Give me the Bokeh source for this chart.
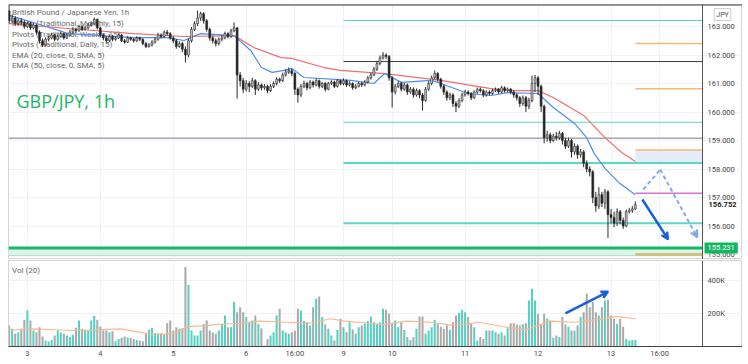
from bokeh.plotting import figure
from bokeh.layouts import column
from bokeh.models import (Range1d, FixedTicker, Grid, Label, Arrow, VeeHead,
                          PrintfTickFormatter, ColumnDataSource, Span)
from bokeh.embed import file_html
from bokeh.resources import INLINE

# ---------------- data (hourly bars) ----------------
OPEN = [
    163.55, 163.20, 163.30, 163.10, 163.20, 163.15, 163.00, 163.10, 162.95, 163.05,
    162.80, 162.50, 162.35, 162.55, 162.60, 162.70, 162.55, 162.65, 162.75, 162.60,
    162.70, 162.80, 162.90, 162.85, 163.00, 162.90, 162.95, 163.05, 163.10, 163.25,
    162.95, 162.70, 162.60, 162.50, 162.65, 162.55, 162.60, 162.70, 162.50, 162.45,
    162.60, 162.55, 162.50, 162.60, 162.55, 162.40, 162.30, 162.35, 162.45, 162.55,
    162.70, 162.65, 162.80, 162.75, 162.60, 162.50, 162.30, 162.40, 162.20, 162.00,
    162.50, 162.90, 163.10, 163.30, 163.45, 163.20, 162.90, 162.60, 162.50, 162.40,
    162.55, 162.60, 162.75, 162.65, 162.85, 162.95, 161.30, 161.10, 160.80, 161.00,
    160.90, 161.10, 160.80, 160.95, 160.85, 160.90, 160.75, 160.90, 161.00, 161.15,
    161.10, 161.30, 161.40, 161.45, 161.35, 160.80, 160.60, 160.90, 161.00, 160.85,
    161.05, 160.95, 161.10, 160.90, 161.00, 160.80, 161.00, 161.05, 160.90, 161.10,
    161.00, 161.10, 160.95, 161.00, 160.85, 160.90, 161.00, 160.95, 161.05, 161.20,
    161.30, 161.50, 161.70, 161.90, 162.00, 161.95, 161.20, 160.70, 160.90, 161.00,
    160.80, 160.95, 160.70, 160.80, 160.60, 160.75, 160.60, 160.40, 160.80, 161.00,
    161.20, 161.35, 161.15, 160.90, 160.70, 160.50, 160.60, 160.30, 160.20, 160.40,
    160.60, 160.70, 160.65, 160.50, 160.70, 160.80, 160.75, 160.60, 160.70, 160.65,
    160.75, 160.80, 160.70, 160.85, 160.75, 160.80, 160.70, 160.60, 160.50, 160.30,
    160.50, 160.20, 160.40, 161.00, 161.20, 160.90, 160.20, 159.10, 159.20, 159.00,
    159.15, 159.10, 159.25, 159.00, 158.80, 159.00, 158.60, 158.80, 158.50, 158.60,
    158.20, 158.00, 157.90, 157.00, 156.70, 157.10, 156.80, 157.20, 156.40, 156.30,
    156.10, 156.50, 156.20, 156.00, 156.50, 156.55, 156.60,
]
CLOSE = [
    163.20, 163.30, 163.10, 163.20, 163.15, 163.00, 163.10, 162.95, 163.05, 162.80,
    162.50, 162.35, 162.55, 162.60, 162.70, 162.55, 162.65, 162.75, 162.60, 162.70,
    162.80, 162.90, 162.85, 163.00, 162.90, 162.95, 163.05, 163.10, 163.25, 162.95,
    162.70, 162.60, 162.50, 162.65, 162.55, 162.60, 162.70, 162.50, 162.45, 162.60,
    162.55, 162.50, 162.60, 162.55, 162.40, 162.30, 162.35, 162.45, 162.55, 162.70,
    162.65, 162.80, 162.75, 162.60, 162.50, 162.30, 162.40, 162.20, 162.00, 162.50,
    162.90, 163.10, 163.30, 163.45, 163.20, 162.90, 162.60, 162.50, 162.40, 162.55,
    162.60, 162.75, 162.65, 162.85, 162.95, 161.30, 161.10, 160.80, 161.00, 160.90,
    161.10, 160.80, 160.95, 160.85, 160.90, 160.75, 160.90, 161.00, 161.15, 161.10,
    161.30, 161.40, 161.45, 161.35, 160.80, 160.60, 160.90, 161.00, 160.85, 161.05,
    160.95, 161.10, 160.90, 161.00, 160.80, 161.00, 161.05, 160.90, 161.10, 161.00,
    161.10, 160.95, 161.00, 160.85, 160.90, 161.00, 160.95, 161.05, 161.20, 161.30,
    161.50, 161.70, 161.90, 162.00, 161.95, 161.20, 160.70, 160.90, 161.00, 160.80,
    160.95, 160.70, 160.80, 160.60, 160.75, 160.60, 160.40, 160.80, 161.00, 161.20,
    161.35, 161.15, 160.90, 160.70, 160.50, 160.60, 160.30, 160.20, 160.40, 160.60,
    160.70, 160.65, 160.50, 160.70, 160.80, 160.75, 160.60, 160.70, 160.65, 160.75,
    160.80, 160.70, 160.85, 160.75, 160.80, 160.70, 160.60, 160.50, 160.30, 160.50,
    160.20, 160.40, 161.00, 161.20, 160.90, 160.20, 159.10, 159.20, 159.00, 159.15,
    159.10, 159.25, 159.00, 158.80, 159.00, 158.60, 158.80, 158.50, 158.60, 158.20,
    158.00, 157.90, 157.00, 156.70, 157.10, 156.80, 157.20, 156.40, 156.30, 156.10,
    156.50, 156.20, 156.00, 156.50, 156.55, 156.60, 156.752,
]
HIGH = [
    163.74, 163.42, 163.36, 163.28, 163.30, 163.22, 163.18, 163.16, 163.12, 163.08,
    162.86, 162.58, 162.62, 162.68, 162.78, 162.74, 162.72, 162.82, 162.78, 162.76,
    162.88, 162.98, 162.96, 163.06, 163.04, 163.02, 163.12, 163.18, 163.32, 163.28,
    163.00, 162.76, 162.66, 162.72, 162.70, 162.66, 162.76, 162.74, 162.56, 162.66,
    162.64, 162.60, 162.66, 162.64, 162.58, 162.46, 162.42, 162.52, 162.62, 162.78,
    162.76, 162.86, 162.88, 162.80, 162.66, 162.56, 162.48, 162.46, 162.30, 162.58,
    162.98, 163.18, 163.56, 163.52, 163.50, 163.26, 162.96, 162.68, 162.58, 162.62,
    162.70, 162.82, 162.80, 162.92, 163.14, 162.98, 161.40, 161.20, 161.12, 161.08,
    161.20, 161.15, 161.05, 161.00, 160.98, 160.96, 160.98, 161.08, 161.22, 161.20,
    161.38, 161.50, 161.56, 161.52, 161.40, 160.86, 160.98, 161.10, 161.06, 161.12,
    161.10, 161.18, 161.14, 161.06, 161.05, 161.06, 161.12, 161.10, 161.16, 161.14,
    161.18, 161.14, 161.08, 161.04, 160.98, 161.06, 161.06, 161.12, 161.26, 161.38,
    161.58, 161.78, 161.98, 162.10, 162.06, 162.00, 161.26, 160.98, 161.08, 161.06,
    161.02, 161.00, 160.88, 160.86, 160.82, 160.80, 160.66, 160.88, 161.08, 161.28,
    161.45, 161.40, 161.20, 160.96, 160.76, 160.68, 160.66, 160.38, 160.48, 160.68,
    160.78, 160.76, 160.70, 160.76, 160.86, 160.86, 160.80, 160.76, 160.76, 160.82,
    160.86, 160.84, 160.92, 160.90, 160.86, 160.84, 160.76, 160.66, 160.56, 160.58,
    160.56, 160.50, 161.28, 161.30, 161.26, 160.96, 160.26, 159.34, 159.28, 159.24,
    159.30, 159.34, 159.30, 159.10, 159.10, 159.06, 158.90, 158.86, 158.70, 158.66,
    158.30, 158.10, 157.96, 157.20, 157.36, 157.20, 157.30, 157.26, 156.60, 156.50,
    156.62, 156.56, 156.30, 156.58, 156.64, 156.70, 156.86,
]
LOW = [
    163.10, 163.12, 163.02, 163.04, 163.06, 162.92, 162.95, 162.88, 162.90, 162.72,
    162.40, 162.28, 162.30, 162.48, 162.55, 162.48, 162.50, 162.60, 162.54, 162.56,
    162.66, 162.75, 162.78, 162.82, 162.84, 162.86, 162.90, 163.00, 163.05, 162.90,
    162.62, 162.52, 162.44, 162.46, 162.48, 162.50, 162.56, 162.45, 162.40, 162.42,
    162.50, 162.44, 162.46, 162.48, 162.34, 162.24, 162.26, 162.30, 162.40, 162.50,
    162.58, 162.60, 162.68, 162.54, 162.42, 162.22, 162.25, 162.10, 161.74, 161.92,
    162.44, 162.84, 163.02, 163.20, 163.10, 162.82, 162.50, 162.40, 162.30, 162.34,
    162.48, 162.55, 162.58, 162.60, 162.80, 160.47, 160.90, 160.66, 160.72, 160.70,
    160.84, 160.60, 160.74, 160.76, 160.78, 160.66, 160.70, 160.84, 160.94, 161.02,
    161.05, 161.24, 161.34, 161.26, 160.60, 160.33, 160.52, 160.84, 160.76, 160.80,
    160.86, 160.90, 160.82, 160.84, 160.72, 160.76, 160.94, 160.84, 160.86, 160.94,
    160.94, 160.88, 160.90, 160.78, 160.80, 160.86, 160.88, 160.90, 161.00, 161.14,
    161.26, 161.44, 161.64, 161.84, 161.86, 161.10, 160.16, 160.62, 160.84, 160.72,
    160.74, 160.60, 160.64, 160.50, 160.54, 160.48, 160.05, 160.36, 160.74, 160.94,
    161.14, 161.06, 160.82, 160.60, 160.40, 160.42, 160.18, 160.00, 160.14, 160.34,
    160.54, 160.58, 160.42, 160.46, 160.64, 160.68, 160.52, 160.54, 160.58, 160.60,
    160.70, 160.64, 160.66, 160.68, 160.70, 160.62, 160.50, 160.40, 160.18, 160.22,
    160.00, 160.10, 160.34, 160.70, 160.60, 160.00, 158.90, 158.96, 158.90, 158.94,
    159.00, 159.02, 158.86, 158.70, 158.74, 158.40, 158.50, 158.36, 158.40, 158.06,
    157.88, 157.74, 156.80, 156.50, 156.60, 156.66, 156.60, 155.58, 156.10, 155.96,
    156.00, 156.06, 155.90, 155.96, 156.44, 156.46, 156.56,
]
VOLUME_K = [
    127, 107, 77, 87, 107, 162, 218, 158, 97, 87,
    117, 60, 36, 30, 40, 67, 97, 85, 77, 67,
    57, 71, 113, 158, 107, 101, 97, 158, 186, 162,
    121, 97, 97, 87, 93, 32, 46, 53, 61, 55,
    53, 46, 40, 35, 32, 77, 101, 113, 81, 77,
    80, 73, 141, 158, 97, 117, 107, 110, 481, 374,
    97, 67, 67, 97, 137, 158, 97, 85, 77, 97,
    137, 188, 117, 117, 269, 208, 238, 208, 178, 147,
    158, 188, 137, 110, 6, 46, 67, 87, 188, 228,
    97, 85, 77, 87, 97, 228, 218, 154, 147, 127,
    238, 289, 303, 178, 133, 107, 67, 36, 100, 168,
    117, 87, 147, 103, 77, 117, 127, 140, 154, 182,
    147, 137, 147, 228, 222, 198, 141, 158, 117, 147,
    100, 57, 40, 57, 107, 182, 182, 77, 97, 117,
    162, 137, 120, 107, 127, 101, 147, 188, 205, 222,
    208, 178, 141, 117, 36, 57, 46, 97, 97, 97,
    87, 77, 87, 67, 111, 141, 141, 133, 127, 135,
    141, 279, 350, 279, 198, 133, 198, 170, 158, 53,
    67, 57, 178, 133, 120, 97, 97, 127, 178, 208,
    319, 238, 269, 208, 188, 238, 279, 283, 188, 168,
    137, 168, 120, 46, 36, 40, 40,
]

# EMA lines (read at sample bars)
EMA20_X = [0, 8, 19.5, 30, 41, 52, 57.5, 63, 74, 79.5, 83, 86.5, 90.5, 93, 97, 112.5,
           120, 123.5, 129, 139, 142, 151, 158.5, 164, 174, 179, 186, 190, 192.5, 196, 200.5, 206]
EMA20_Y = [163.39, 163.14, 162.75, 162.68, 162.61, 162.61, 162.51, 162.75, 162.68, 162.16,
           161.56, 161.39, 161.46, 161.53, 161.21, 161.11, 161.00, 161.35, 161.04, 161.11,
           161.00, 160.65, 160.58, 160.68, 160.65, 160.16, 159.60, 159.10, 158.54, 158.02,
           157.53, 157.10]
EMA50_X = [0, 19.5, 41, 57.5, 74, 80.5, 89.5, 93, 103.5, 109, 123.5, 142, 158.5, 166, 174,
           179, 189, 191.5, 196, 201.5, 206]
EMA50_Y = [163.10, 162.93, 162.75, 162.65, 162.68, 162.26, 161.91, 161.88, 161.56, 161.46,
           161.35, 161.11, 160.82, 160.75, 160.75, 160.51, 159.88, 159.60, 159.10, 158.58, 158.26]

# Volume moving average (sampled)
VMA_X = [0, 6.8, 13.1, 21, 28.8, 36.7, 44.5, 50.8, 55.5, 58.6, 63.3, 68, 75.9, 82.2, 91.6,
         99.4, 105.7, 110.4, 118.3, 123, 130.8, 138.7, 146.5, 154.4, 162.2, 170, 177.9,
         185.8, 193.6, 199.9, 206.2]
VMA_K = [97, 107, 103, 97, 101, 107, 81, 73, 87, 121, 125, 133, 141, 154, 147, 141, 168,
         154, 141, 133, 154, 147, 127, 147, 121, 101, 154, 147, 162, 182, 168]

# x-axis ticks (bar index) and their labels
DAY_TICKS = [6, 30, 54, 78, 94, 110, 126, 150, 174, 198, 214]
DAY_LABELS = ["3", "4", "5", "6", "16:00", "9", "10", "11", "12", "13", "16:00"]

PRICE_TICKS = [155, 156, 157, 158, 159, 160, 161, 162, 163]
VOL_TICKS = [200000, 400000]
VOL_TICK_LABELS = ["200K", "400K"]

# pivot / level lines
FULL_LEVELS = [159.08]
WEEK_START = 110
WEEK_LEVELS = [163.21, 161.77, 159.64, 158.21, 156.10]
WEEK_COLORS = ["#5cd6c8", "#3a3a3a", "#5cd6c8", "#5cd6c8", "#5cd6c8"]
WEEK_WIDTHS = [1, 1, 1, 2, 2]
DAY_START = 206
DAY_LEVELS = [162.40, 160.82, 158.67, 157.15, 155.00]
DAY_COLORS = ["#f8b873", "#f8b873", "#f8b873", "#dd6fd9", "#cfc27e"]
DAY_WIDTHS = [1.5, 1.5, 1.5, 1.5, 3]
DAY_BOX = (158.21, 158.67)
SUPPORT_LEVEL = 155.231
SUPPORT_BAND_LOW = 154.96
LAST_PRICE = 156.752

# annotations (bar index, price / volume)
ARROW_SOLID = (208.3, 156.93, 216.8, 155.53)
ARROW_DASH_PTS_X = [208.6, 214.2, 226.4]
ARROW_DASH_PTS_Y = [157.28, 157.98, 155.60]
VOL_ARROW = (183.0, 200000, 197.1, 333000)

LEGEND_LINES = ["British Pound / Japanese Yen, 1h",
                "Pivots (Traditional, Monthly, 15)",
                "Pivots (Traditional, Weekly, 15)",
                "Pivots (Traditional, Daily, 15)",
                "EMA (20, close, 0, SMA, 5)",
                "EMA (50, close, 0, SMA, 5)"]

# ---------------- layout constants ----------------
X_START = -0.2
AXIS_X = 228.1          # where the price scale sits
X_END = 241.25          # right edge of the frame (covers the scale strip)
P_LOW, P_HIGH = 154.825, 163.772
V_TOP = 521000
FRAME_W = 734
FONT = "Roboto"
AXIS_TXT = "#4a4a4a"

BAR = list(range(len(CLOSE)))
UP = [c >= o for o, c in zip(OPEN, CLOSE)]
src = ColumnDataSource(dict(
    x=BAR, o=OPEN, c=CLOSE, h=HIGH, l=LOW,
    top=[max(o, c) for o, c in zip(OPEN, CLOSE)],
    bot=[min(o, c) for o, c in zip(OPEN, CLOSE)],
    body=["#c9c9c9" if u else "#222222" for u in UP],
    vol=[v * 1000 for v in VOLUME_K],
    vcol=["#52d0c2" if u else "#a9a9a9" for u in UP],
))

xr = Range1d(X_START, X_END)


def style_axis(a, standoff):
    a.major_label_text_font = FONT
    a.major_label_text_font_size = "7.5px"
    a.major_label_text_color = AXIS_TXT
    a.major_tick_line_color = None
    a.minor_tick_line_color = None
    a.major_tick_out = 0
    a.major_tick_in = 0
    a.minor_tick_out = 0
    a.minor_tick_in = 0
    a.major_label_standoff = standoff


# ---------------- price pane ----------------
p = figure(frame_width=FRAME_W, frame_height=255, x_range=xr,
           y_range=Range1d(P_LOW, P_HIGH), output_backend="svg",
           toolbar_location=None, x_axis_location=None, y_axis_location="right",
           min_border_left=8, min_border_right=0, min_border_top=4, min_border_bottom=0,
           background_fill_color="white", border_fill_color="white",
           outline_line_color="#d4d4d4")
p.grid.visible = False
p.add_layout(Grid(dimension=0, ticker=FixedTicker(ticks=DAY_TICKS),
                  grid_line_color="#f1f2f5"))
p.add_layout(Grid(dimension=1, ticker=FixedTicker(ticks=PRICE_TICKS),
                  grid_line_color="#f1f2f5", bounds=(X_START, AXIS_X)))

ax = p.yaxis[0]
ax.fixed_location = AXIS_X
ax.ticker = FixedTicker(ticks=PRICE_TICKS)
ax.formatter = PrintfTickFormatter(format="%.3f")
style_axis(ax, 5)
ax.axis_line_color = "#555555"

# support band + line
p.quad(left=[X_START], right=[AXIS_X], bottom=[SUPPORT_BAND_LOW], top=[SUPPORT_LEVEL],
       fill_color="#dcf5e8", line_color=None)
p.segment(x0=[X_START], x1=[AXIS_X], y0=[SUPPORT_BAND_LOW], y1=[SUPPORT_BAND_LOW],
          line_color="#a9d9cb", line_width=1)
# daily pivot box
p.quad(left=[DAY_START], right=[AXIS_X], bottom=[DAY_BOX[0]], top=[DAY_BOX[1]],
       fill_color="#e4ecf8", line_color=None)
# level lines
p.segment(x0=[X_START] * len(FULL_LEVELS), x1=[AXIS_X] * len(FULL_LEVELS),
          y0=FULL_LEVELS, y1=FULL_LEVELS, line_color="#a4a4b4", line_width=1.5)
p.segment(x0=[WEEK_START] * len(WEEK_LEVELS), x1=[AXIS_X] * len(WEEK_LEVELS),
          y0=WEEK_LEVELS, y1=WEEK_LEVELS, line_color=WEEK_COLORS, line_width=WEEK_WIDTHS)
p.segment(x0=[DAY_START] * len(DAY_LEVELS), x1=[AXIS_X] * len(DAY_LEVELS),
          y0=DAY_LEVELS, y1=DAY_LEVELS, line_color=DAY_COLORS, line_width=DAY_WIDTHS)
p.segment(x0=[X_START], x1=[AXIS_X], y0=[SUPPORT_LEVEL], y1=[SUPPORT_LEVEL],
          line_color="#11b865", line_width=3)

# legend texts (under the candles)
for i, t in enumerate(LEGEND_LINES):
    p.add_layout(Label(x=X_START, y=P_HIGH, x_offset=3.5, y_offset=-8.3 - 10.6 * i,
                       text=t, text_font=FONT, text_font_size="8px",
                       text_color="#6a6a6a", text_baseline="middle", level="underlay"))

# EMAs
p.line(EMA50_X, EMA50_Y, line_color="#ef6f6f", line_width=1.2)
p.line(EMA20_X, EMA20_Y, line_color="#4d8cf5", line_width=1.2)

# candles
p.segment(x0="x", x1="x", y0="l", y1="h", source=src, line_color="#2a2a2a", line_width=1)
p.vbar(x="x", width=0.62, top="top", bottom="bot", source=src,
       fill_color="body", line_color="#2a2a2a", line_width=0.6)

# arrows
p.line(ARROW_DASH_PTS_X[:2], ARROW_DASH_PTS_Y[:2], line_color="#80a9f2",
       line_width=2, line_dash="4 3")
p.add_layout(Arrow(end=VeeHead(size=7, line_color="#80a9f2", fill_color="#80a9f2", line_width=2),
                   x_start=ARROW_DASH_PTS_X[1], y_start=ARROW_DASH_PTS_Y[1],
                   x_end=ARROW_DASH_PTS_X[2], y_end=ARROW_DASH_PTS_Y[2],
                   line_color="#80a9f2", line_width=2, line_dash="4 3"))
p.add_layout(Arrow(end=VeeHead(size=7, line_color="#1a5fe0", fill_color="#1a5fe0", line_width=2),
                   x_start=ARROW_SOLID[0], y_start=ARROW_SOLID[1],
                   x_end=ARROW_SOLID[2], y_end=ARROW_SOLID[3],
                   line_color="#1a5fe0", line_width=2.5))

# top border
p.add_layout(Span(location=P_HIGH, dimension="width", line_color="#3c3c3c", line_width=2))

p.add_layout(Label(x=X_START, y=P_HIGH, x_offset=8, y_offset=-84.5, text="GBP/JPY, 1h",
                   text_font="Open Sans", text_font_size="18px", text_color="#19b765",
                   text_baseline="top"))

# price-scale tags
p.add_layout(Label(x=AXIS_X, y=P_HIGH, x_offset=20, y_offset=-4, text="JPY",
                   text_font=FONT, text_font_size="7px", text_color="#555555",
                   text_align="center", text_baseline="top", border_line_color="#cfcfcf",
                   background_fill_color="white", padding=2))
p.add_layout(Label(x=AXIS_X, y=LAST_PRICE, x_offset=5, text=f"{LAST_PRICE:.3f}",
                   text_font=FONT, text_font_size="7.5px", text_font_style="bold",
                   text_color="#222222", text_baseline="middle",
                   background_fill_color="white", padding=1))
p.add_layout(Label(x=AXIS_X, y=SUPPORT_LEVEL, x_offset=2, text=f"{SUPPORT_LEVEL:.3f}",
                   text_font=FONT, text_font_size="7.5px", text_color="white",
                   text_baseline="middle", background_fill_color="#12b560", padding=3))

# ---------------- volume pane ----------------
v = figure(frame_width=FRAME_W, frame_height=86, x_range=xr,
           y_range=Range1d(0, V_TOP), output_backend="svg",
           toolbar_location=None, x_axis_location="below", y_axis_location="right",
           min_border_left=8, min_border_right=0, min_border_top=1, min_border_bottom=0,
           background_fill_color="white", border_fill_color="white",
           outline_line_color="#d4d4d4")
v.grid.visible = False
v.add_layout(Grid(dimension=0, ticker=FixedTicker(ticks=DAY_TICKS),
                  grid_line_color="#f1f2f5"))
v.add_layout(Grid(dimension=1, ticker=FixedTicker(ticks=VOL_TICKS),
                  grid_line_color="#f1f2f5", bounds=(X_START, AXIS_X)))

vy = v.yaxis[0]
vy.fixed_location = AXIS_X
vy.ticker = FixedTicker(ticks=VOL_TICKS)
vy.major_label_overrides = dict(zip(VOL_TICKS, VOL_TICK_LABELS))
style_axis(vy, 5)
vy.axis_line_color = "#555555"

vx = v.xaxis[0]
vx.ticker = FixedTicker(ticks=DAY_TICKS)
vx.major_label_overrides = dict(zip(DAY_TICKS, DAY_LABELS))
style_axis(vx, 2)
vx.axis_line_color = "#444444"

v.add_layout(Label(x=X_START, y=V_TOP, x_offset=3.5, y_offset=-10, text="Vol (20)",
                   text_font=FONT, text_font_size="8px", text_color="#6a6a6a",
                   text_baseline="middle", level="underlay"))
v.vbar(x="x", width=0.66, top="vol", bottom=0, source=src,
       fill_color="vcol", line_color=None)
v.line(VMA_X, [k * 1000 for k in VMA_K], line_color="#f7b88f", line_width=1.2)
v.add_layout(Arrow(end=VeeHead(size=7, line_color="#1a5fe0", fill_color="#1a5fe0", line_width=2),
                   x_start=VOL_ARROW[0], y_start=VOL_ARROW[1],
                   x_end=VOL_ARROW[2], y_end=VOL_ARROW[3],
                   line_color="#1a5fe0", line_width=2.5))

layout = column(p, v, spacing=0)
open("out.html", "w").write(file_html(layout, INLINE))
